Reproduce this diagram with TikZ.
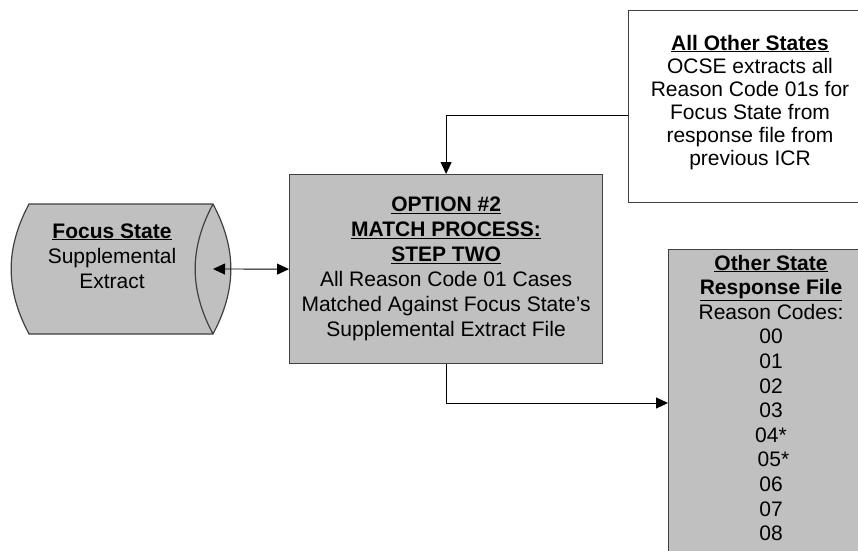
\documentclass[tikz,border=0pt]{standalone}
\usepackage{fontspec}
\setmainfont{Liberation Sans}
\usetikzlibrary{arrows.meta}
\definecolor{boxgray}{HTML}{C0C0C0}
\definecolor{edgegray}{HTML}{404040}
\newcommand{\hdr}[1]{\underline{\textbf{#1}}}
\newcommand{\txtlines}[1]{\begin{tabular}[t]{@{}c@{}}#1\end{tabular}}
\tikzset{
  graybox/.style={draw=edgegray, fill=boxgray, line width=1.2pt, inner sep=0pt},
  whitebox/.style={draw=edgegray, fill=white, line width=1.2pt, inner sep=0pt},
  conn/.style={draw=black, line width=0.9pt},
  tip/.style={-{Triangle[length=12pt,width=11pt]}},
  dtip/.style={{Triangle[length=12pt,width=11pt]}-{Triangle[length=12pt,width=11pt]}},
  txt/.style={inner sep=0pt, anchor=base},
}
\begin{document}
\begin{tikzpicture}[x=1pt,y=-1pt, font=\fontsize{21}{25}\selectfont]
\useasboundingbox (0,0) rectangle (858,550);
\clip (0,0) rectangle (858,550);
% cylinder (Focus State)
\draw[draw=edgegray, fill=boxgray, line width=1.2pt]
  (29,204) -- (213,204) to[bend left=28] (213,334) -- (29,334) to[bend left=28] (29,204) -- cycle;
\draw[draw=edgegray, line width=1.2pt] (213,204) to[bend right=28] (213,334);
\coordinate (cylend) at (213,269);
\node[txt] (focus) at (112,238) {\txtlines{\hdr{Focus State}\\Supplemental\\Extract}};
% main box
\node[graybox, anchor=north west, minimum width=313pt, minimum height=189pt] (main) at (289,174)
  {\txtlines{\hdr{OPTION \#2}\\\hdr{MATCH PROCESS:}\\\hdr{STEP TWO}\\All Reason Code 01 Cases\\Matched Against Focus State’s\\Supplemental Extract File}};
% all other states box
\node[whitebox, anchor=north west, minimum width=300pt, minimum height=192pt] (others) at (628,10) {};
\node[txt] (otherstext) at (750,50) {\fontsize{21}{23}\selectfont\txtlines{\hdr{All Other States}\\OCSE extracts all\\Reason Code 01s for\\Focus State from\\response file from\\previous ICR}};
% other state response file box
\node[graybox, anchor=north west, minimum width=300pt, minimum height=400pt] (resp) at (668,249) {};
\node[txt] (resptext) at (771,270) {\fontsize{21}{24.6}\selectfont\txtlines{\hdr{Other State}\\\hdr{Response File}\\Reason Codes:\\00\\01\\02\\03\\04*\\\hspace*{5pt}05*\\06\\07\\08}};
% connectors
\draw[conn, dtip] (cylend) -- (main.west);
\draw[conn, tip] (others.west |- 0,115) -| (main.north);
\draw[conn, tip] (main.south) |- (resp.west |- 0,403);
\end{tikzpicture}
\end{document}
